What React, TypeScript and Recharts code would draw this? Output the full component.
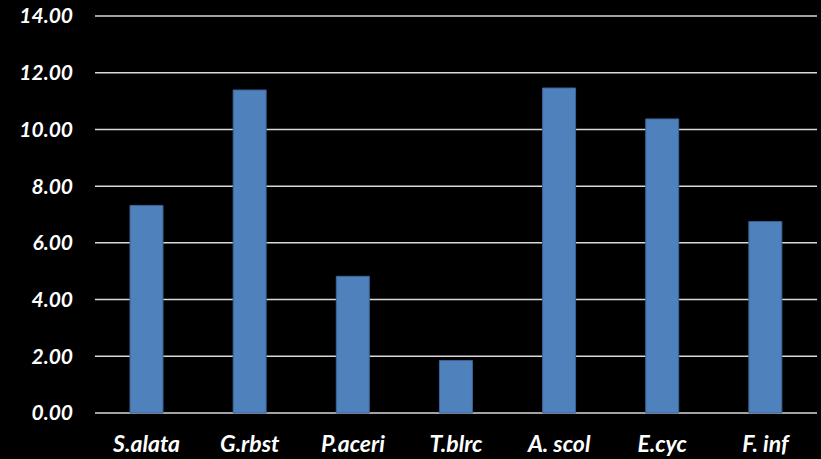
import { BarChart, Bar, XAxis, YAxis, CartesianGrid } from 'recharts';

const species = ['S.alata', 'G.rbst', 'P.aceri', 'T.blrc', 'A. scol', 'E.cyc', 'F. inf'];
const values = [7.32, 11.39, 4.82, 1.85, 11.46, 10.37, 6.75];
const yTicks = [0, 2, 4, 6, 8, 10, 12, 14];

const data = species.map((name, i) => ({ name, value: values[i] }));

const labelFont = {
  fill: '#ffffff',
  fontFamily: 'Lato, "Open Sans", sans-serif',
  fontWeight: 700,
  fontStyle: 'italic',
};

export default function App() {
  return (
    <div style={{ position: 'absolute', left: 0, top: 0, width: 821, height: 459, background: '#000' }}>
      <BarChart
        width={821}
        height={459}
        data={data}
        margin={{ top: 16, right: 4, bottom: 0, left: 0 }}
      >
        <CartesianGrid horizontal vertical={false} stroke="#d9d9d9" strokeWidth={1.5} />
        <XAxis
          dataKey="name"
          height={46}
          axisLine={false}
          tickLine={false}
          tickSize={0}
          tickMargin={23}
          tick={{ ...labelFont, fontSize: 23 }}
          interval={0}
        />
        <YAxis
          width={95}
          domain={[0, 14]}
          ticks={yTicks}
          axisLine={false}
          tickLine={false}
          tickSize={0}
          tickMargin={22}
          tick={{ ...labelFont, fontSize: 21 }}
          tickFormatter={(v: number) => v.toFixed(2)}
        />
        <Bar
          dataKey="value"
          fill="#4f81bd"
          stroke="#3a6594"
          strokeWidth={1}
          barSize={33}
          isAnimationActive={false}
        />
      </BarChart>
    </div>
  );
}
